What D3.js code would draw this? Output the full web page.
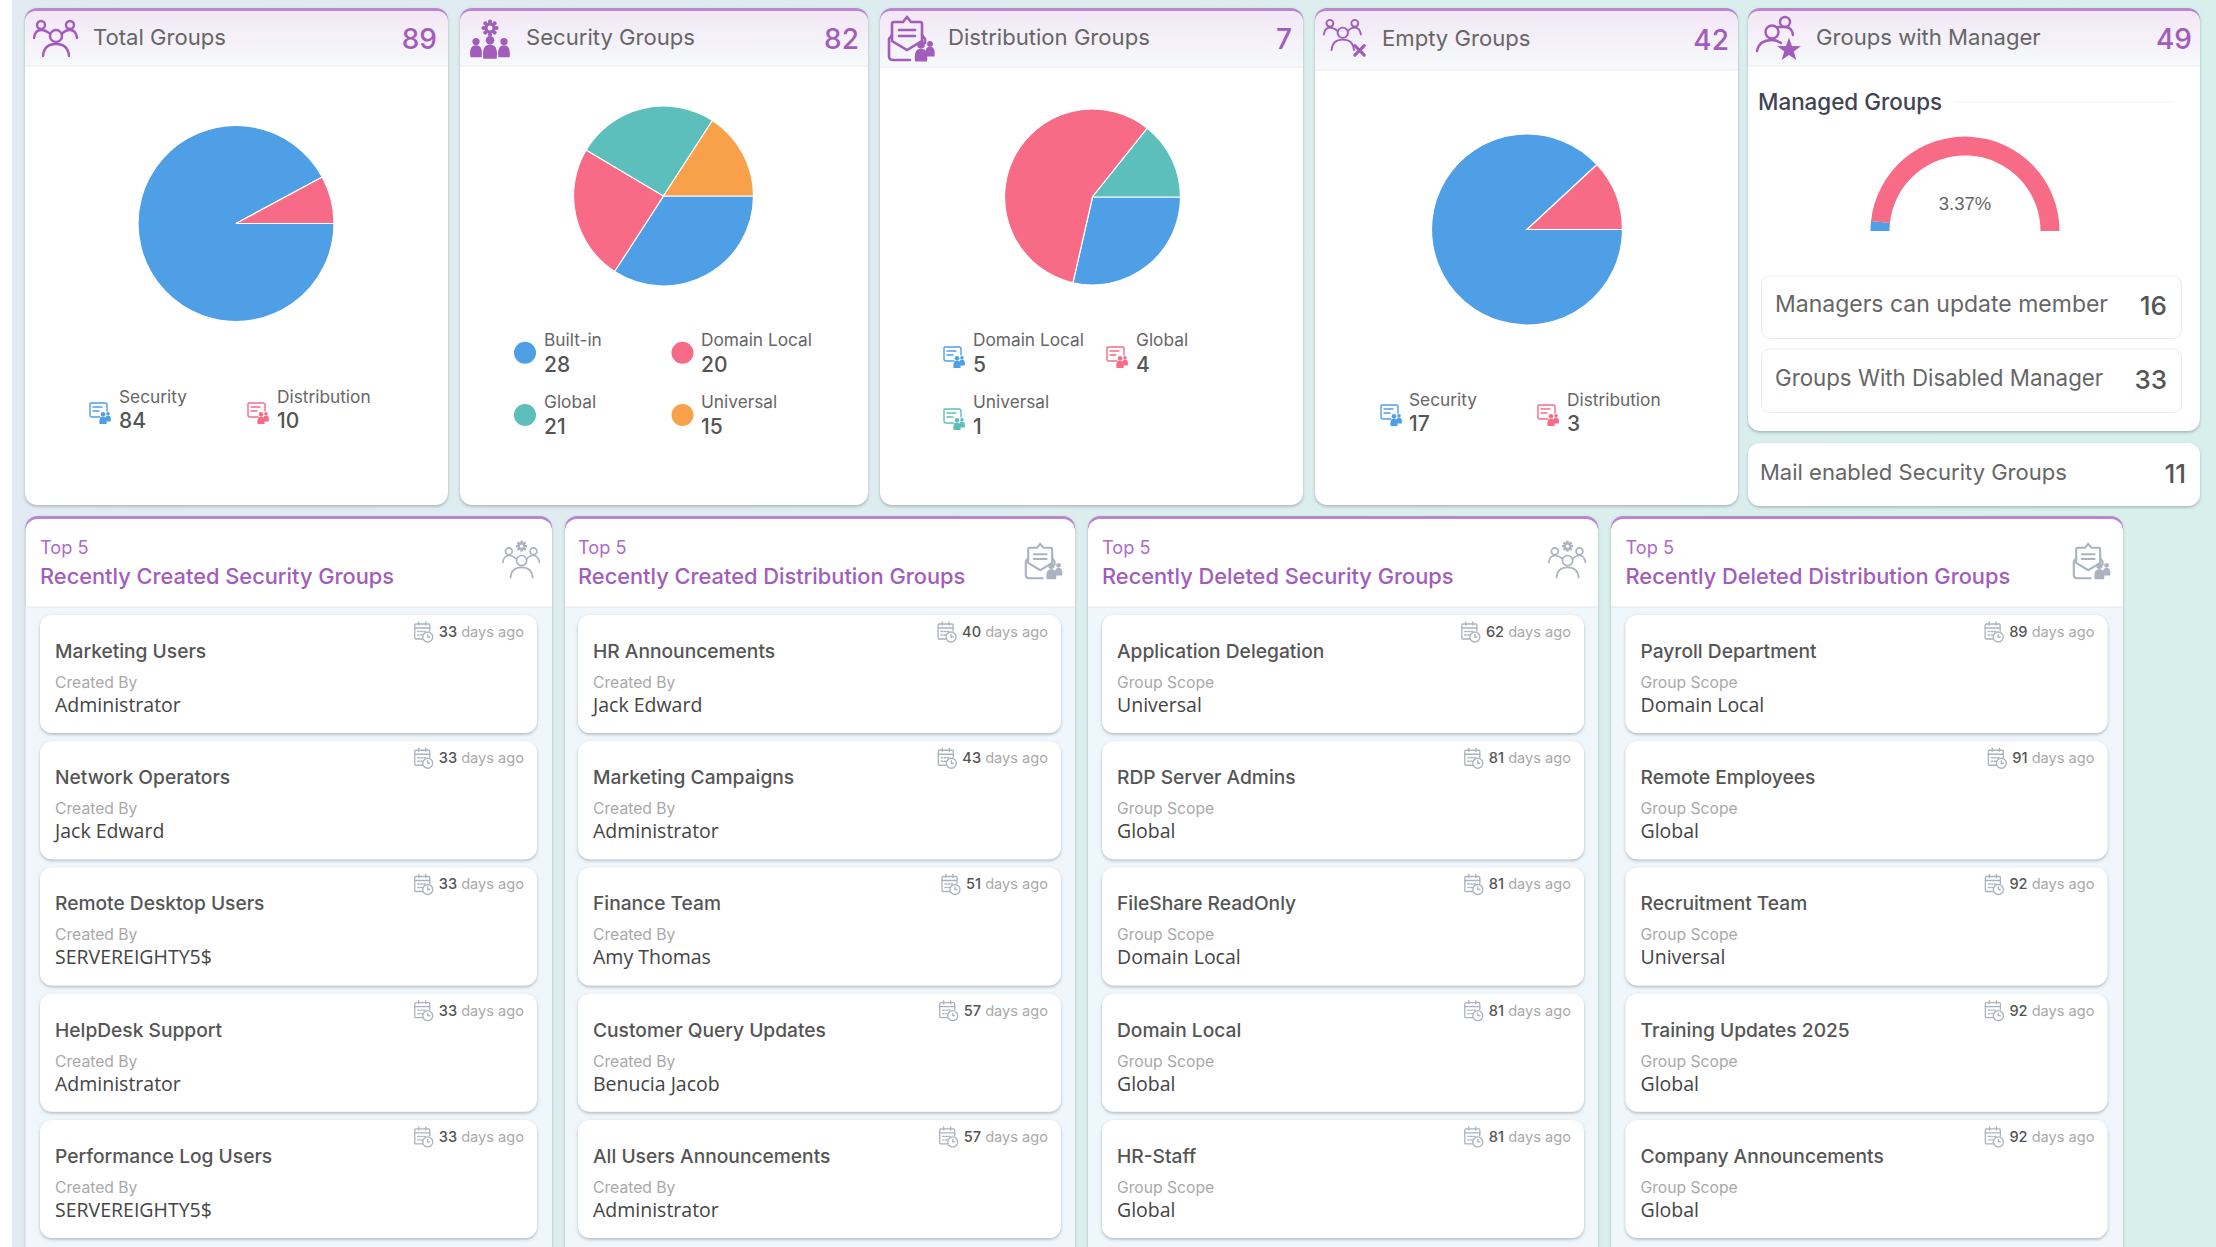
<!DOCTYPE html>
<html>
<head>
<meta charset="utf-8">
<script src="https://cdn.jsdelivr.net/npm/d3@7"></script>
<style>
  html, body { margin: 0; padding: 0; background: #fff; overflow: hidden; }
  svg { display: block; }
</style>
</head>
<body>
<script>
// values
const topTitles = ["Total Groups", "Security Groups", "Distribution Groups", "Empty Groups", "Groups with Manager"];
const topValues = [89, 82, 7, 42, 49];

const totalSlices = [82, 7];
const securitySlices = [28, 20, 21, 13];
const distributionSlices = [2, 4, 1];
const emptySlices = [37, 5];
const gaugeSlices = [3.37, 96.63];

const totalLegend = ["Security", "Distribution"];
const totalLegendValues = [84, 10];
const securityLegend = ["Built-in", "Domain Local", "Global", "Universal"];
const securityLegendValues = [28, 20, 21, 15];
const distributionLegend = ["Domain Local", "Global", "Universal"];
const distributionLegendValues = [5, 4, 1];
const emptyLegend = ["Security", "Distribution"];
const emptyLegendValues = [17, 3];

const gaugeLabel = "3.37%";
const statLabels = ["Managers can update member", "Groups With Disabled Manager", "Mail enabled Security Groups"];
const statValues = [16, 33, 11];

const listTitles = ["Recently Created Security Groups", "Recently Created Distribution Groups", "Recently Deleted Security Groups", "Recently Deleted Distribution Groups"];
const listSubLabels = ["Created By", "Created By", "Group Scope", "Group Scope"];

const createdSecurityNames = ["Marketing Users", "Network Operators", "Remote Desktop Users", "HelpDesk Support", "Performance Log Users"];
const createdSecurityBy = ["Administrator", "Jack Edward", "SERVEREIGHTY5$", "Administrator", "SERVEREIGHTY5$"];
const createdSecurityDays = [33, 33, 33, 33, 33];

const createdDistNames = ["HR Announcements", "Marketing Campaigns", "Finance Team", "Customer Query Updates", "All Users Announcements"];
const createdDistBy = ["Jack Edward", "Administrator", "Amy Thomas", "Benucia Jacob", "Administrator"];
const createdDistDays = [40, 43, 51, 57, 57];

const deletedSecurityNames = ["Application Delegation", "RDP Server Admins", "FileShare ReadOnly", "Domain Local", "HR-Staff"];
const deletedSecurityScope = ["Universal", "Global", "Domain Local", "Global", "Global"];
const deletedSecurityDays = [62, 81, 81, 81, 81];

const deletedDistNames = ["Payroll Department", "Remote Employees", "Recruitment Team", "Training Updates 2025", "Company Announcements"];
const deletedDistScope = ["Domain Local", "Global", "Universal", "Global", "Global"];
const deletedDistDays = [89, 91, 92, 92, 92];

// colours and fonts
const BLUE = "#4f9fe7", RED = "#f76b86", TEAL = "#5cbfbc", ORANGE = "#f9a14a";
const PURPLE = "#a25cbb", STRIP = "#b986cf", ICON_GREY = "#aab3bf";
const SANS = "Inter, 'Noto Sans', sans-serif";
const OPEN = "'Open Sans', sans-serif";

const W = 2216, H = 1247;

const svg = d3.select("body").append("svg").attr("width", W).attr("height", H);
const defs = svg.append("defs");

const bgGrad = defs.append("linearGradient").attr("id", "bg");
bgGrad.append("stop").attr("offset", "0%").attr("stop-color", "#e1ebf1");
bgGrad.append("stop").attr("offset", "100%").attr("stop-color", "#d8f0ec");

const headGrad = defs.append("linearGradient").attr("id", "head").attr("x2", 0).attr("y2", 1);
headGrad.append("stop").attr("offset", "0%").attr("stop-color", "#f3e7f6");
headGrad.append("stop").attr("offset", "100%").attr("stop-color", "#f6fafb");

const shadow = defs.append("filter").attr("id", "shadow")
    .attr("x", "-5%").attr("y", "-5%").attr("width", "110%").attr("height", "110%");
shadow.append("feDropShadow").attr("dx", 0).attr("dy", 1.5).attr("stdDeviation", 1.5)
    .attr("flood-color", "#5c6f78").attr("flood-opacity", 0.45);

svg.append("rect").attr("x", 12).attr("width", W - 12).attr("height", H).attr("fill", "url(#bg)");

function text(x, y, str, size, color, opts) {
    opts = opts || {};
    return svg.append("text")
        .attr("x", x).attr("y", y)
        .attr("font-family", opts.font || SANS)
        .attr("font-size", size)
        .attr("font-weight", opts.weight || 400)
        .attr("text-anchor", opts.anchor || "start")
        .attr("fill", color)
        .text(str);
}

function card(x, y, w, h, strip) {
    if (strip) {
        svg.append("rect").attr("x", x).attr("y", y).attr("width", w).attr("height", h)
            .attr("rx", 12).attr("fill", STRIP).attr("filter", "url(#shadow)");
        svg.append("rect").attr("x", x).attr("y", y + 3).attr("width", w).attr("height", h - 3)
            .attr("rx", 12).attr("fill", "#fff");
    } else {
        svg.append("rect").attr("x", x).attr("y", y).attr("width", w).attr("height", h)
            .attr("rx", 12).attr("fill", "#fff").attr("filter", "url(#shadow)");
    }
}

// header band with rounded top corners
function headBand(x, y, w, bottom) {
    const r = 12, t = y + 3;
    svg.append("path")
        .attr("d", `M${x},${bottom}V${t + r}Q${x},${t} ${x + r},${t}H${x + w - r}Q${x + w},${t} ${x + w},${t + r}V${bottom}Z`)
        .attr("fill", "url(#head)");
    svg.append("line").attr("x1", x).attr("x2", x + w).attr("y1", bottom).attr("y2", bottom)
        .attr("stroke", "#f3e6f5").attr("stroke-width", 1);
}

/* ---- icons, drawn in their own little boxes ---- */
function iconGroup(x, y, s) {
    return svg.append("g").attr("transform", `translate(${x},${y}) scale(${s})`);
}

function outline(g, color, sw) {
    return g.append("g").attr("fill", "none").attr("stroke", color).attr("stroke-width", sw).attr("stroke-linecap", "round");
}

function peopleOutline(x, y, s, color, sw) {
    const g = outline(iconGroup(x, y, s), color, sw);
    g.append("circle").attr("cx", 8).attr("cy", 5).attr("r", 4);
    g.append("circle").attr("cx", 37).attr("cy", 5).attr("r", 4);
    g.append("circle").attr("cx", 23).attr("cy", 16).attr("r", 6);
    g.append("path").attr("d", "M1,18Q2,10 8,10Q13,10 17,14");
    g.append("path").attr("d", "M29,14Q32,10 37,10Q43,10 44,18");
    g.append("path").attr("d", "M10,36Q11,24 23,24Q35,24 36,36");
    return g;
}

function gearDot(parent, cx, cy, r, color) {
    const g = parent.append("g").attr("fill", color).attr("stroke", "none");
    d3.range(8).forEach(i => {
        const a = i * Math.PI / 4;
        g.append("circle").attr("cx", cx + Math.cos(a) * r).attr("cy", cy + Math.sin(a) * r).attr("r", r * 0.32);
    });
    g.append("circle").attr("cx", cx).attr("cy", cy).attr("r", r * 0.85);
    g.append("circle").attr("cx", cx).attr("cy", cy).attr("r", r * 0.38).attr("fill", "#fff");
}

function solidPerson(g, cx, top, s, color) {
    g.append("circle").attr("cx", cx).attr("cy", top + 4.5 * s).attr("r", 4.5 * s).attr("fill", color);
    g.append("path").attr("fill", color)
        .attr("d", `M${cx - 7 * s},${top + 24 * s}Q${cx - 9 * s},${top + 9 * s} ${cx},${top + 9 * s}Q${cx + 9 * s},${top + 9 * s} ${cx + 7 * s},${top + 24 * s}Z`);
}

function envelopeDoc(x, y, s, color) {
    const root = iconGroup(x, y, s);
    const g = outline(root, color, 2.6);
    g.append("path").attr("d", "M4,19L1,23V40Q1,44 5,44H22");
    g.append("path").attr("d", "M4,25V8Q4,6 6,6H15L19,1L23,6H32Q34,6 34,8V25L19,34Z");
    g.append("line").attr("x1", 11).attr("x2", 27).attr("y1", 14).attr("y2", 14);
    g.append("line").attr("x1", 11).attr("x2", 27).attr("y1", 20).attr("y2", 20);
    g.append("path").attr("d", "M34,19L37,23V27");
    solidPerson(root, 33, 25, 0.85, color);
    solidPerson(root, 42, 25, 0.65, color);
}

function legendDoc(x, y, color) {
    const root = iconGroup(x, y, 1);
    const g = outline(root, color, 1.4);
    g.append("path").attr("d", "M11,15H3Q1,15 1,13V2Q1,1 2,1H16Q18,1 18,3V9");
    g.append("line").attr("x1", 4).attr("x2", 13).attr("y1", 5).attr("y2", 5);
    g.append("line").attr("x1", 4).attr("x2", 10).attr("y1", 9).attr("y2", 9);
    solidPerson(root, 19, 10, 0.4, color);
    solidPerson(root, 14, 10, 0.5, color);
}

function calendar(x, y) {
    const root = iconGroup(x, y, 1);
    const g = outline(root, ICON_GREY, 1.3);
    g.append("path").attr("d", "M10,17H2Q1,17 1,16V3Q1,2 2,2H15Q16,2 16,3V9");
    g.append("line").attr("x1", 1).attr("x2", 16).attr("y1", 6).attr("y2", 6);
    g.append("line").attr("x1", 5).attr("x2", 5).attr("y1", 0).attr("y2", 3);
    g.append("line").attr("x1", 12).attr("x2", 12).attr("y1", 0).attr("y2", 3);
    g.append("line").attr("x1", 4).attr("x2", 13).attr("y1", 9.5).attr("y2", 9.5).attr("stroke-dasharray", "1.5 1.5");
    g.append("line").attr("x1", 4).attr("x2", 9).attr("y1", 13).attr("y2", 13).attr("stroke-dasharray", "1.5 1.5");
    g.append("circle").attr("cx", 14).attr("cy", 15).attr("r", 5).attr("fill", "#fff");
    g.append("path").attr("d", "M14,12.5V15H16");
}

/* ---- top row ---- */
const topBoxes = [
    { x: 25, w: 423, h: 497, head: 66, base: 45, num: 49, tx: 93, nx: 437 },
    { x: 460, w: 408, h: 497, head: 66, base: 45, num: 49, tx: 526, nx: 859 },
    { x: 880, w: 423, h: 497, head: 67, base: 45, num: 49, tx: 948, nx: 1292 },
    { x: 1315, w: 423, h: 497, head: 70, base: 46, num: 50, tx: 1382, nx: 1729 },
    { x: 1748, w: 452, h: 423, head: 66, base: 45, num: 49, tx: 1816, nx: 2192 }
];

topBoxes.forEach((b, i) => {
    card(b.x, 8, b.w, b.h, true);
    headBand(b.x, 8, b.w, b.head);
    text(b.tx, b.base, topTitles[i], 22.1, "#666");
    text(b.nx, b.num, topValues[i], 28, PURPLE, { anchor: "end", weight: 500 });
});

peopleOutline(33, 20, 1, PURPLE, 2.4);

// security groups icon
const secIcon = iconGroup(470, 20, 1);
gearDot(secIcon, 20, 8, 6.5, PURPLE);
solidPerson(secIcon, 6, 18, 0.8, PURPLE);
solidPerson(secIcon, 34, 18, 0.8, PURPLE);
solidPerson(secIcon, 20, 16, 0.95, PURPLE);

envelopeDoc(888, 16, 1, PURPLE);

const emptyIcon = peopleOutline(1323, 19, 0.86, PURPLE, 2.2);
emptyIcon.append("path").attr("d", "M37,31L48,42M48,31L37,42").attr("stroke-width", 3.6);

// manager icon, star built with lineRadial
const mgrIcon = outline(iconGroup(1756, 16, 1), PURPLE, 2.4);
mgrIcon.append("circle").attr("cx", 29).attr("cy", 6).attr("r", 5);
mgrIcon.append("circle").attr("cx", 16).attr("cy", 16).attr("r", 6.5);
mgrIcon.append("path").attr("d", "M1,35Q3,24 16,24Q21,24 25,27");
mgrIcon.append("path").attr("d", "M22,11Q25,11 29,11Q36,11 37,19");
const starPts = d3.range(10).map(i => [i * Math.PI / 5, i % 2 ? 5 : 12.5]);
svg.append("path").attr("transform", "translate(1789,50)")
    .attr("d", d3.lineRadial().curve(d3.curveLinearClosed)(starPts)).attr("fill", PURPLE);

/* ---- pies ---- */
const pie = d3.pie().sort(null).startAngle(Math.PI / 2).endAngle(Math.PI * 2.5);

function drawPie(cx, cy, r, values, colors) {
    const arc = d3.arc().innerRadius(0).outerRadius(r);
    svg.append("g").attr("transform", `translate(${cx},${cy})`)
        .selectAll("path").data(pie(values)).enter().append("path")
        .attr("d", arc)
        .attr("fill", (d, i) => colors[i])
        .attr("stroke", "#fff").attr("stroke-width", 1.2);
}

drawPie(236, 223.5, 98, totalSlices, [BLUE, RED]);
drawPie(663.5, 196, 90, securitySlices, [BLUE, RED, TEAL, ORANGE]);
drawPie(1092.5, 197, 88, distributionSlices, [BLUE, RED, TEAL]);
drawPie(1527, 229.5, 95.5, emptySlices, [BLUE, RED]);

// gauge, half a pie
const gaugePie = d3.pie().sort(null).startAngle(-Math.PI / 2).endAngle(Math.PI / 2);
const gaugeArc = d3.arc().innerRadius(75.5).outerRadius(94.5);
svg.append("g").attr("transform", "translate(1965,231)")
    .selectAll("path").data(gaugePie(gaugeSlices)).enter().append("path")
    .attr("d", gaugeArc)
    .attr("fill", (d, i) => [BLUE, RED][i]);
text(1965, 210, gaugeLabel, 18.5, "#666", { anchor: "middle", font: "'Liberation Sans', sans-serif" });

text(1758, 110, "Managed Groups", 22.4, "#3f4554", { weight: 500 });
svg.append("line").attr("x1", 1955).attr("x2", 2172).attr("y1", 102).attr("y2", 102).attr("stroke", "#eef0f2");

/* ---- legends ---- */
function legendEntry(x, labelY, numY, label, value) {
    text(x, labelY, label, 17.3, "#666");
    text(x, numY, value, 21, "#555", { weight: 500 });
}

totalLegend.forEach((d, i) => {
    const tx = [119, 277][i], ix = [89, 247][i];
    legendDoc(ix, 402, [BLUE, RED][i]);
    legendEntry(tx, 403, 428, d, totalLegendValues[i]);
});

securityLegend.forEach((d, i) => {
    const col = i % 2, row = Math.floor(i / 2);
    svg.append("circle").attr("cx", [525, 682.5][col]).attr("cy", [352.7, 415][row]).attr("r", 11)
        .attr("fill", [BLUE, RED, TEAL, ORANGE][i]);
    legendEntry([544, 701][col], [345.7, 407.7][row], [371.7, 434][row], d, securityLegendValues[i]);
});

distributionLegend.forEach((d, i) => {
    const col = i % 2, row = Math.floor(i / 2);
    legendDoc([943, 1106][col], [346, 408][row], [BLUE, RED, TEAL][i]);
    legendEntry([973, 1136][col], [345.7, 407.7][row], [371.7, 434][row], d, distributionLegendValues[i]);
});

emptyLegend.forEach((d, i) => {
    legendDoc([1380, 1537][i], 404, [BLUE, RED][i]);
    legendEntry([1409, 1567][i], 406, 431, d, emptyLegendValues[i]);
});

/* ---- stats on the right ---- */
const statSizes = [23, 22.3, 22];
[[276, 62.5, 312, 315], [349, 63.5, 386, 389]].forEach((r, i) => {
    svg.append("rect").attr("x", 1761.5).attr("y", r[0]).attr("width", 420).attr("height", r[1])
        .attr("rx", 8).attr("fill", "#fff").attr("stroke", "#e8ecf0");
    text(1775, r[2], statLabels[i], statSizes[i], "#666");
    text(2167, r[3], statValues[i], 26, "#555", { anchor: "end", weight: 500 });
});

card(1748, 443, 452, 63, false);
text(1760, 480, statLabels[2], statSizes[2], "#666");
text(2186, 483, statValues[2], 26, "#555", { anchor: "end", weight: 500 });

/* ---- bottom lists ---- */
const listBoxes = [
    { x: 25.5, w: 526.5, ix: 40, iw: 497 },
    { x: 565, w: 510, ix: 578, iw: 483 },
    { x: 1088, w: 510, ix: 1102, iw: 482 },
    { x: 1611, w: 512, ix: 1625.5, iw: 482 }
];
const listNames = [createdSecurityNames, createdDistNames, deletedSecurityNames, deletedDistNames];
const listSubs = [createdSecurityBy, createdDistBy, deletedSecurityScope, deletedDistScope];
const listDays = [createdSecurityDays, createdDistDays, deletedSecurityDays, deletedDistDays];

// rows of each list through a band scale
const rowY = d3.scaleBand().domain(d3.range(5)).range([615, 1238]).paddingInner(0.065).paddingOuter(0);

listBoxes.forEach((b, c) => {
    card(b.x, 516, b.w, H + 30 - 516, true);
    svg.append("rect").attr("x", b.x).attr("y", 607).attr("width", b.w).attr("height", H - 607 + 20).attr("fill", "#eff6fc");
    svg.append("line").attr("x1", b.x).attr("x2", b.x + b.w).attr("y1", 607).attr("y2", 607).attr("stroke", "#e3e8ec");

    text(b.ix, 554, "Top 5", 18.2, "#ad6cc8");
    text(b.ix, 584, listTitles[c], 21.8, PURPLE, { weight: 500 });

    const right = b.x + b.w - 12;
    if (c % 2 === 0) {
        const g = peopleOutline(right - 38, 547, 0.85, ICON_GREY, 2);
        gearDot(g, 23, -1, 5, ICON_GREY);
    } else {
        envelopeDoc(right - 38, 543, 0.8, ICON_GREY);
    }

    listNames[c].forEach((name, i) => {
        const y = rowY(i), h = rowY.bandwidth();
        card(b.ix, y, b.iw, h, false);
        text(b.ix + 15, y + 43, name, 19.2, "#555", { weight: 500 });
        text(b.ix + 15, y + 73, listSubLabels[c], 15.7, "#a9a9a9");
        text(b.ix + 15, y + 97, listSubs[c][i], 19.5, "#444", { font: OPEN });

        const days = text(b.ix + b.iw - 13, y + 22, null, 14.6, "#a9a9a9", { anchor: "end" });
        days.append("tspan").attr("fill", "#555").attr("font-weight", 500).text(listDays[c][i]);
        days.append("tspan").text(" days ago");
        calendar(b.ix + b.iw - 13 - days.node().getComputedTextLength() - 25, y + 7);
    });
});
</script>
</body>
</html>
